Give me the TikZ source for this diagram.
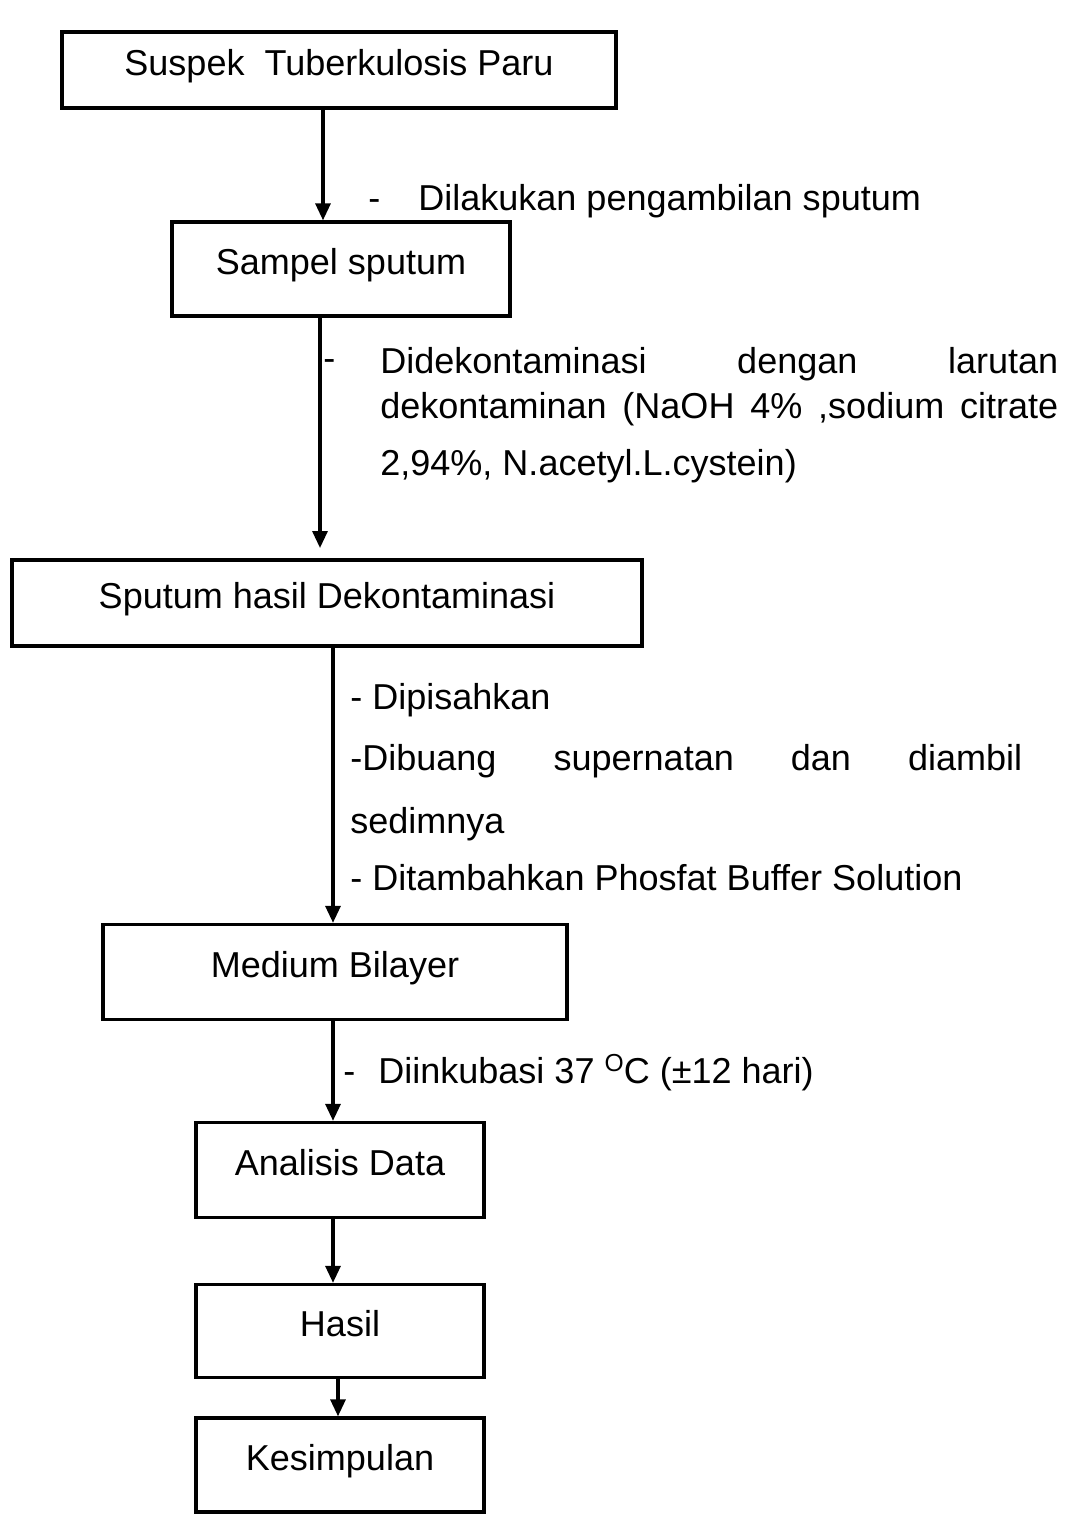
\documentclass[tikz,border=0pt]{standalone}
\usepackage{fontspec}
\setmainfont{Liberation Sans}
\usetikzlibrary{arrows.meta,positioning}

\begin{document}
\begin{tikzpicture}[
    box/.style={rectangle, draw, line width=1.9pt, inner sep=0pt,
                font=\fontsize{20.5}{24}\selectfont, text height=0.5cm, text depth=0.3cm},
    note/.style={anchor=base west, inner sep=0pt, font=\fontsize{20.5}{24}\selectfont},
    arr/.style={-{Triangle[length=0.34cm, width=0.3cm]}, line width=1.8pt}
  ]
    \useasboundingbox (0,0) rectangle (21.4,-30.3);

    % Boxes
    \node[box, minimum width=11.08cm, minimum height=1.52cm] (suspek) at (6.78,-1.40) {Suspek\ \ Tuberkulosis Paru};
    \node[box, minimum width=6.76cm, minimum height=1.88cm] (sampel) at (6.82,-5.38) {Sampel sputum};
    \node[box, minimum width=12.6cm, minimum height=1.72cm] (dekon) at (6.54,-12.06) {Sputum hasil Dekontaminasi};
    \node[box, minimum width=9.28cm, minimum height=1.90cm] (medium) at (6.70,-19.44) {Medium Bilayer};
    \node[box, minimum width=5.76cm, minimum height=1.90cm] (analisis) at (6.80,-23.40) {Analisis Data};
    \node[box, minimum width=5.76cm, minimum height=1.86cm] (hasil) at (6.80,-26.62) {Hasil};
    \node[box, minimum width=5.76cm, minimum height=1.88cm] (simpul) at (6.80,-29.30) {Kesimpulan};

    % Arrows
    \coordinate (x1) at (6.46,0);
    \coordinate (end2) at (6.40,-10.96);
    \coordinate (x3) at (6.66,0);
    \coordinate (x6) at (6.76,0);
    \draw[arr] (suspek.south -| x1) -- (sampel.north -| x1);
    \draw[arr] (sampel.south -| end2) -- (end2);
    \draw[arr] (dekon.south -| x3) -- (medium.north -| x3);
    \draw[arr] (medium.south -| x3) -- (analisis.north -| x3);
    \draw[arr] (analisis.south -| x3) -- (hasil.north -| x3);
    \draw[arr] (hasil.south -| x6) -- (simpul.north -| x6);

    % Step notes
    \node[note] (n1) at (7.36,-4.20) {\makebox[1cm][l]{-}Dilakukan pengambilan sputum};

    \node[note] (n2dash) at (6.46,-7.40) {-};
    \node[note] (n2a) at (7.60,-7.46) {\makebox[13.56cm][s]{Didekontaminasi dengan larutan}};
    \node[note] (n2b) at (7.60,-8.36) {\makebox[13.56cm][s]{dekontaminan (NaOH 4\% ,sodium citrate}};
    \node[note] (n2c) at (7.60,-9.50) {2,94\%, N.acetyl.L.cystein)};

    \node[note] (n3a) at (7.00,-14.18) {- Dipisahkan};
    \node[note] (n3b) at (7.00,-15.40) {\makebox[13.44cm][s]{-Dibuang supernatan dan diambil}};
    \node[note] (n3c) at (7.00,-16.66) {sedimnya};
    \node[note] (n3d) at (7.00,-17.80) {- Ditambahkan Phosfat Buffer Solution};

    \node[note] (n4) at (6.86,-21.66) {\makebox[0.7cm][l]{-}Diinkubasi 37 \raisebox{0.6ex}{\fontsize{14}{14}\selectfont O}C (±12 hari)};
  \end{tikzpicture}
\end{document}
